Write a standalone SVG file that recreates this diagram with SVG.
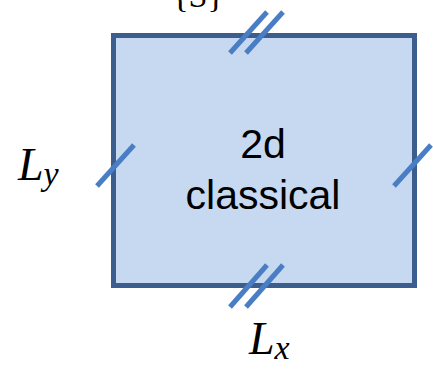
<svg xmlns="http://www.w3.org/2000/svg" width="433" height="376" viewBox="0 0 433 376">
<style>
.hatch{stroke:#4a7ec4;stroke-width:5;fill:none}
.lbl{font-family:"Liberation Sans",Arial,sans-serif;font-size:41px;fill:#000;text-anchor:middle}
.math{font-family:"Liberation Serif","Times New Roman",serif;font-style:italic;fill:#000}
</style>
<rect width="433" height="376" fill="#fff"/>
<g id="top-label"><text x="198" y="7" font-size="34" text-anchor="middle" style="font-family:'Liberation Serif',serif;font-style:normal">{S}</text></g>
<g id="node-2d">
<rect x="113.5" y="35.5" width="301" height="250" fill="#c6d9f0" stroke="#3b5e8e" stroke-width="5"/>
<text class="lbl" x="263" y="158">2d</text>
<text class="lbl" x="263" y="209">classical</text>
</g>
<g id="connectors">
<line class="hatch" x1="230" y1="53" x2="267" y2="12"/>
<line class="hatch" x1="246" y1="53" x2="283" y2="12"/>
<line class="hatch" x1="230" y1="307" x2="267" y2="265"/>
<line class="hatch" x1="246" y1="307" x2="283" y2="265"/>
<line class="hatch" x1="97" y1="186" x2="134" y2="145"/>
<line class="hatch" x1="394" y1="186" x2="431" y2="145"/>
</g>
<g id="label-Ly"><text class="math" x="18" y="180" font-size="46">L<tspan font-size="34" dy="5">y</tspan></text></g>
<g id="label-Lx"><text class="math" x="249" y="354" font-size="46">L<tspan font-size="34" dy="5">x</tspan></text></g>
</svg>
